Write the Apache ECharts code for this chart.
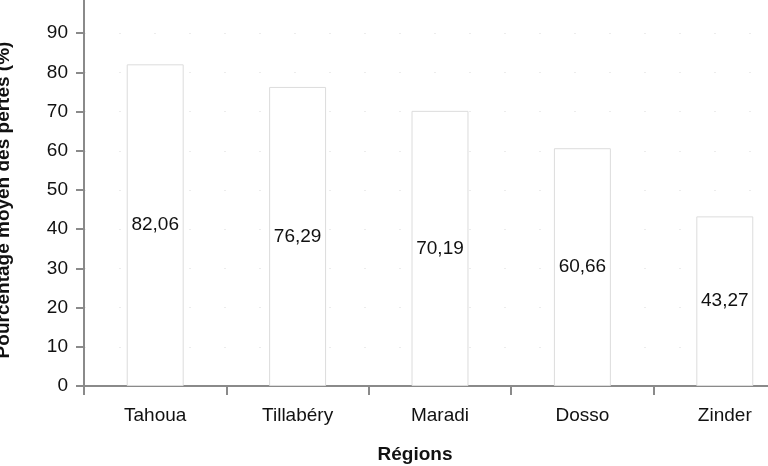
<!DOCTYPE html>
<html lang="fr">
<head>
  <meta charset="UTF-8">
  <title>Pertes par région</title>
  <style>
    html, body { margin: 0; padding: 0; background: #fff; overflow: hidden; }
    /* the chart is a bit larger than the window: top and right edges are cropped */
    #main { position: absolute; left: 0; top: -20px; width: 800px; height: 486px; }
  </style>
</head>
<body>
  <div id="main"></div>
</body>
<script src="https://cdn.jsdelivr.net/npm/echarts@6/dist/echarts.min.js"></script>
<script>
  const regions = ['Tahoua', 'Tillabéry', 'Maradi', 'Dosso', 'Zinder'];
  const pertes = [82.06, 76.29, 70.19, 60.66, 43.27];
  const yTicks = [0, 100, 10]; // min, max, interval

  let myChart = echarts.init(document.getElementById('main'));

  const axisGray = '#8a8a8a';
  const font = 'Liberation Sans, Arial, sans-serif';

  myChart.setOption({
    animation: false,
    grid: { left: 84, right: 4, top: 14, bottom: 80, outerBoundsMode: 'none', containLabel: false },
    xAxis: {
      type: 'category',
      data: regions,
      name: 'Régions',
      nameLocation: 'middle',
      nameGap: 59,
      nameTextStyle: { fontFamily: font, fontSize: 19, fontWeight: 'bold', color: '#111', padding: [0, 50, 0, 0] },
      axisLine: { lineStyle: { color: axisGray, width: 2 } },
      axisTick: { show: true, length: 9, lineStyle: { color: axisGray, width: 2 } },
      axisLabel: { fontFamily: font, fontSize: 19, color: '#111', margin: 20 },
      splitLine: { show: false }
    },
    yAxis: {
      type: 'value',
      min: yTicks[0],
      max: yTicks[1],
      interval: yTicks[2],
      name: 'Pourcentage moyen des pertes (%)',
      nameLocation: 'middle',
      nameGap: 71,
      nameTextStyle: { fontFamily: font, fontSize: 19, fontWeight: 'bold', color: '#111', padding: [0, 20, 0, 0] },
      axisLine: { show: true, lineStyle: { color: axisGray, width: 2 } },
      axisTick: { show: true, length: 8, lineStyle: { color: axisGray, width: 2 } },
      axisLabel: { fontFamily: font, fontSize: 19, color: '#111', margin: 16 },
      splitLine: { show: true, lineStyle: { color: '#ececec', type: [2, 33], width: 1 } }
    },
    series: [{
      type: 'bar',
      data: pertes,
      barWidth: '40%',
      itemStyle: { color: '#fff', borderColor: '#dcdcdc', borderWidth: 1 },
      label: {
        show: true,
        position: 'inside',
        fontFamily: font,
        fontSize: 19,
        color: '#111',
        formatter: p => p.value.toFixed(2).replace('.', ',')
      }
    }]
  });
</script>
</html>
